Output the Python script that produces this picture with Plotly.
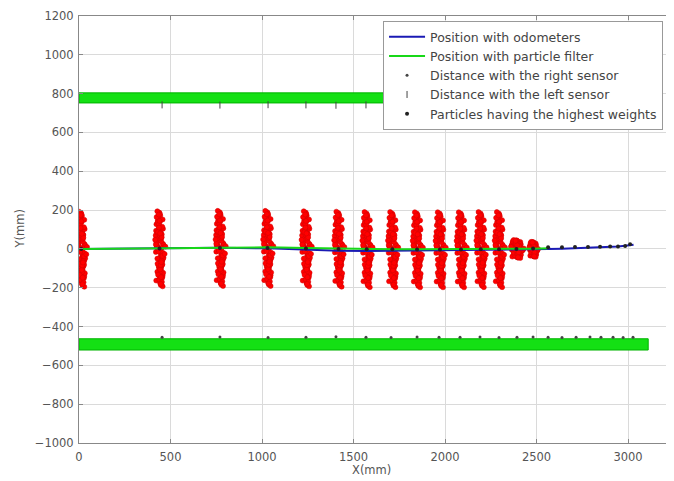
import plotly.graph_objects as go

# ---------------- data ----------------
wall_x = [0, 3110]
top_wall_y = [752, 804]
bottom_wall_y = [-521, -463]

odo_x = [0, 440, 770, 1030, 1240, 1418, 1572, 1712, 1847, 1972, 2087, 2195, 2295, 2390, 2481,
         2563, 2639, 2710, 2781, 2847, 2902, 2945, 2984, 3030]
odo_y = [0, 2, 6, 3, -4, -9, -11, -10, -9, -7, -6, -5, -5, -4, -3,
         -1, 1, 3, 5, 7, 9, 12, 16, 22]

pf_x = [0, 440, 770, 1030, 1240, 1418, 1572, 1712, 1847, 1972, 2087, 2195, 2295, 2390, 2481, 2563]
pf_y = [0, 3, 8, 8, 5, 1, -1, -2, -2, -2, -2, -1, -1, 0, 1, 3]

cloud_cx = [12, 440, 770, 1030, 1240, 1418, 1572, 1712, 1847, 1972, 2087, 2195, 2295, 2390, 2481]
cloud_cy = [0, 2, 4, 4, 2, 0, -2, -2, -3, -3, -3, -2, -2, 0, -2]
cloud_sx = [1, 1, 1, 1, 1, 1, 1, 1, 1, 1, 1, 1, 1, 1.25, 0.85]
cloud_sy = [1, 1, 1, 1, 1, 1, 1, 1, 1, 1, 1, 1, 1, 0.24, 0.2]

cloud_dx = [-10, 7, -17, 12, 3, -5, 18, -12, 8, -2,
            15, -8, 4, -20, 10, -3, 0, 17, -14, 6,
            -8, 12, -18, 2, 21, -6, 9, -11, 5, -16,
            13, -3, 17, -9, 8, -21, 3, 11, -7, 16,
            -12, 1, 19, -4, 14, -17, 7, -13, 10, -1,
            5, -15, 20, -8, 3, 12, -10, 8, -19, 4,
            -5, 17, -12, 9, -2, 15, -17, 6, 12, -8,
            2, -11, 8, 18, -3, 13, -7, 22, -14, 0,
            11, -9, 3, -16, 16, -3, 8, -20, 6, 12,
            -6, 17, -12, 3, 28, -24, 10, 32, -4, 7]
cloud_dy = [12, -35, 60, -88, 140, -5, 25, -120, 95, -60,
            -150, 42, 170, -18, 75, -100, 110, -140, 8, -72,
            130, -45, -165, 55, 20, 155, -95, 88, -130, 33,
            -25, 118, -58, 145, -110, 68, -178, 3, 160, -82,
            48, -155, 102, -12, -68, 125, -188, 82, -40, 185,
            -105, 28, -125, 165, 64, -32, 136, -145, 92, -6,
            -90, 150, -52, 38, -160, 112, 15, -118, 72, -135,
            178, -78, 52, -22, 126, -172, 98, -48, 5, 142,
            -62, 85, -108, 162, -38, 108, -148, 22, -85, 58,
            -15, -195, 192, 78, -28, 45, -70, 10, 175, -182]

sensor_x = [454, 770, 1033, 1240, 1404, 1568, 1705, 1847, 1967, 2082, 2191, 2295,
            2393, 2481, 2563, 2639, 2716, 2792, 2852, 2918, 2973, 3027]
right_y = [-455, -454, -456, -455, -453, -455, -456, -454, -455, -455, -454, -456,
           -455, -454, -455, -456, -455, -454, -455, -455, -456, -455]
left_y = [742, 741, 743, 742, 740, 742, 741, 742, 743, 742, 741, 742,
          742, 741, 742, 743, 742, 741, 742, 742, 741, 742]

best_x = [12, 440, 770, 1030, 1240, 1418, 1572, 1712, 1847, 1972, 2087, 2195, 2295, 2390, 2481,
          2563, 2639, 2710, 2781, 2847, 2902, 2945, 2984, 3011]
best_y = [0, 2, 5, 5, 2, 0, -2, -2, -3, -3, -3, -2, -2, 0, 2,
          8, 9, 10, 10, 11, 12, 13, 15, 24]

# ---------------- build cloud points ----------------
cx_all, cy_all = [], []
for cx, cy, sx, sy in zip(cloud_cx, cloud_cy, cloud_sx, cloud_sy):
    for dx, dy in zip(cloud_dx, cloud_dy):
        cx_all.append(cx + dx * sx)
        cy_all.append(cy + dy * sy)

fig = go.Figure()

for wy in (top_wall_y, bottom_wall_y):
    fig.add_trace(go.Scatter(
        x=[wall_x[0], wall_x[1], wall_x[1], wall_x[0], wall_x[0]],
        y=[wy[0], wy[0], wy[1], wy[1], wy[0]],
        mode="lines", fill="toself", fillcolor="#14e014",
        line=dict(color="#00b400", width=1), showlegend=False, hoverinfo="skip"))

fig.add_trace(go.Scatter(x=cx_all, y=cy_all, mode="markers",
                         marker=dict(color="#ff0000", size=5, line=dict(width=0.5, color="#d00000")),
                         showlegend=False, hoverinfo="skip"))

fig.add_trace(go.Scatter(x=odo_x, y=odo_y, mode="lines", name="Position with odometers",
                         line=dict(color="#1a1ab4", width=2), legendrank=1))
fig.add_trace(go.Scatter(x=pf_x, y=pf_y, mode="lines", name="Position with particle filter",
                         line=dict(color="#18d818", width=2), legendrank=2))
fig.add_trace(go.Scatter(x=sensor_x, y=right_y, mode="markers", name="Distance with the right sensor",
                         marker=dict(color="#444444", size=3, symbol="circle"), legendrank=3))
fig.add_trace(go.Scatter(x=sensor_x, y=left_y, mode="markers", name="Distance with the left sensor",
                         marker=dict(color="#444444", size=5, symbol="line-ns-open",
                                     line=dict(width=1, color="#444444")), legendrank=4))
fig.add_trace(go.Scatter(x=best_x, y=best_y, mode="markers", name="Particles having the highest weights",
                         marker=dict(color="#222222", size=4, symbol="circle"), legendrank=5))

axis_common = dict(showgrid=True, gridcolor="#dadada", gridwidth=1, zeroline=False,
                   showline=True, linecolor="#888888", linewidth=1, automargin=False,
                   ticks="inside", ticklen=4, tickcolor="#888888",
                   tickfont=dict(family="DejaVu Sans", size=11.5, color="#555555"))

# The page body adds an 8px offset; the figure is sized/margined to compensate.
fig.update_layout(
    width=666, height=473,
    margin=dict(l=71, r=0, t=8, b=38, autoexpand=False),
    paper_bgcolor="white", plot_bgcolor="white",
    font=dict(family="DejaVu Sans", size=11.5, color="#555555"),
    xaxis=dict(range=[0, 3251], dtick=500, mirror="ticks",
               ticklabelstandoff=3, **axis_common),
    yaxis=dict(range=[-1000, 1200], dtick=200,
               ticklabelstandoff=2, **axis_common),
    legend=dict(x=0.511, y=0.988, xanchor="left", yanchor="top",
                bgcolor="white", bordercolor="#999999", borderwidth=1,
                font=dict(family="DejaVu Sans", size=12.5, color="#444444"),
                tracegroupgap=0, itemwidth=36),
    annotations=[
        dict(text="X(mm)", xref="paper", yref="paper", x=0.4924, y=-0.063,
             xanchor="center", yanchor="middle", showarrow=False,
             font=dict(family="DejaVu Sans", size=11.5, color="#555555")),
        dict(text="Y(mm)", xref="paper", yref="paper", x=-0.1008, y=0.5,
             xanchor="center", yanchor="middle", showarrow=False, textangle=-90,
             font=dict(family="DejaVu Sans", size=11.5, color="#555555")),
    ],
)

fig.write_html("out.html")
